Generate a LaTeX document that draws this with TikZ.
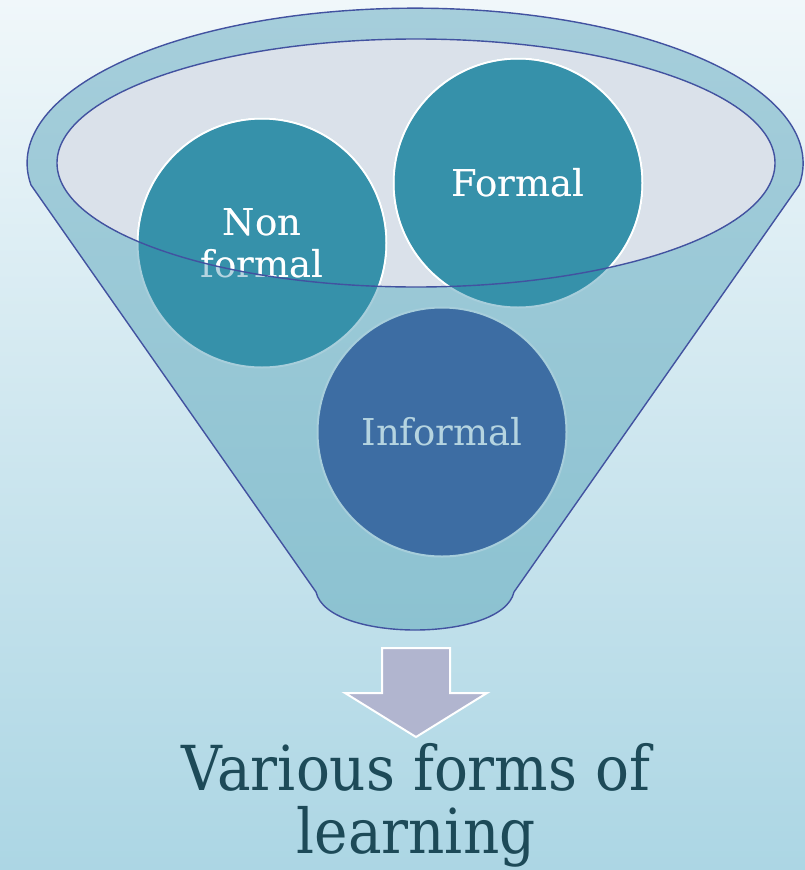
\documentclass[tikz,border=0pt]{standalone}
\usepackage{fontspec}
\setmainfont{DejaVu Serif}
\newfontfamily\titlefont[FakeStretch=0.91]{DejaVu Serif}
\definecolor{bgtop}{HTML}{F0F7FA}
\definecolor{bgbot}{HTML}{ACD6E4}
\definecolor{funtop}{HTML}{A6CEDB}
\definecolor{funbot}{HTML}{8CC2D1}
\definecolor{innerc}{HTML}{DAE1EA}
\definecolor{outlc}{HTML}{4252A0}
\definecolor{tealc}{HTML}{3691AA}
\definecolor{informc}{HTML}{3D6DA3}
\definecolor{fadedtext}{HTML}{B5D4E0}
\definecolor{fadedline}{HTML}{A7CEDB}
\definecolor{arrowc}{HTML}{B1B5CF}
\definecolor{titlec}{HTML}{1D4A58}
\begin{document}
\begin{tikzpicture}[x=1pt,y=-1pt,
  outl/.style={draw=outlc, line width=1.4pt},
  bubble/.style={circle, minimum size=249pt, inner sep=0pt, align=center,
    font=\fontsize{37}{42}\selectfont, line width=2pt},
  fadedbubble/.style={bubble, draw=fadedline, text=fadedtext},
  brightbubble/.style={bubble, draw=white, text=white}]
\shade[top color=bgtop,bottom color=bgbot] (0,0) rectangle (805,870);
\useasboundingbox (0,0) rectangle (805,870);
% funnel body
\path[top color=funtop,bottom color=funbot, outl, line join=round]
  (31,185) arc[start angle=188.1,end angle=-8.1,x radius=388pt,y radius=155pt]
  -- (514,592) .. controls (508,618) and (460,630) .. (415,630)
  .. controls (370,630) and (322,618) .. (316,592)
  -- cycle;
% funnel mouth
\fill[innerc] (416,163) ellipse[x radius=359pt,y radius=124pt];
% circles
\node[fadedbubble, fill=tealc] (nonformal) at (262,243) {Non\\formal};
\node[fadedbubble, fill=tealc] (formal) at (518,183) {Formal};
\node[fadedbubble, fill=informc] (informal) at (442,432) {Informal};
\begin{scope}
  \clip (416,163) ellipse[x radius=359pt,y radius=124pt];
  \node[brightbubble] at (nonformal) {Non\\formal};
  \node[brightbubble] at (formal) {Formal};
\end{scope}
\draw[outl] (416,163) ellipse[x radius=359pt,y radius=124pt];
% arrow
\path[draw=white, line width=2pt, fill=arrowc, line join=miter]
  (382,648) -- (450,648) -- (450,693) -- (487,693) -- (416,737)
  -- (345,693) -- (382,693) -- cycle;
% result text
\node[text=titlec, font=\titlefont\fontsize{62}{63}\selectfont, align=center, anchor=base]
  (result) at (416,853) {Various forms of\\learning};
\end{tikzpicture}
\end{document}
